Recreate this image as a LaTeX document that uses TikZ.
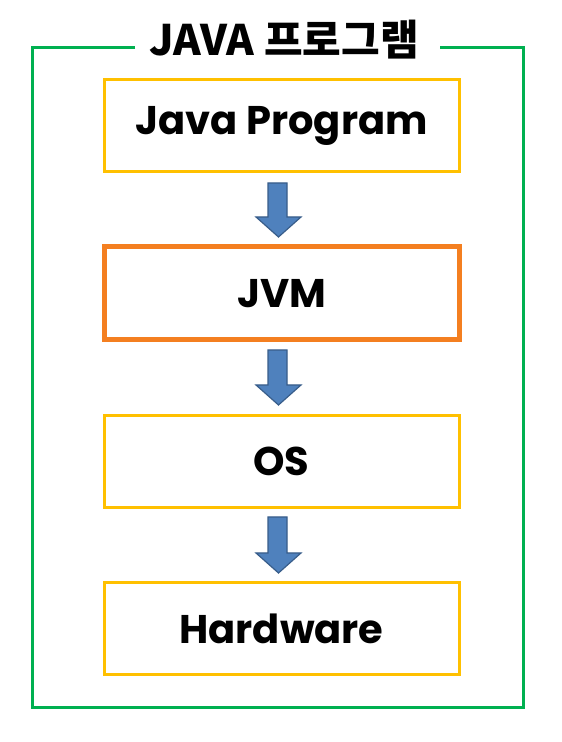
\documentclass[tikz,border=0pt]{standalone}
\usepackage{fontspec}
\setmainfont{Poppins}
\newfontfamily\krfont{Noto Sans CJK KR}
\definecolor{frameGreen}{HTML}{00B050}
\definecolor{boxYellow}{HTML}{FFC000}
\definecolor{boxOrange}{HTML}{F47F20}
\definecolor{arrFill}{HTML}{4F81BD}
\definecolor{arrEdge}{HTML}{385D8A}
\tikzset{
  layer/.style={draw=boxYellow, line width=3pt, minimum width=355pt, minimum height=92pt, inner sep=0pt, font=\bfseries\fontsize{40}{40}\selectfont, anchor=center},
  hotlayer/.style={layer, draw=boxOrange, line width=5pt, minimum height=93pt},
  blockarrow/.style={fill=arrFill, draw=arrEdge, line width=1.2pt, line join=miter},
  frameline/.style={draw=frameGreen, line width=3pt}
}
\newcommand{\downblock}[2]{%
  \draw[blockarrow] (268,742-#1) -- (287,742-#1) -- (287,742-#2) -- (301,742-#2) -- (278.5,742-#2-20) -- (256,742-#2) -- (268,742-#2) -- cycle;}
\begin{document}
\begin{tikzpicture}[x=1pt,y=1pt]
\useasboundingbox (0,0) rectangle (562,742);
\fill[white] (0,0) rectangle (562,742);
% frame
\draw[frameline] (135,694) -- (32,694) -- (32,34) -- (523,34) -- (523,694) -- (440,694);
\node[font=\krfont\bfseries\fontsize{42}{42}\selectfont, inner sep=0pt] (title) at (284,702) {JAVA 프로그램};
% layers
\node[layer] (jp) at (281.5,742-126) {Java Program};
\node[hotlayer] (jvm) at (282,742-293.5) {JVM};
\node[layer] (os) at (281.5,742-461.5) {OS};
\node[layer] (hw) at (281.5,742-629) {Hardware};
% arrows
\downblock{183}{217}
\downblock{350}{385}
\downblock{517}{553}
\end{tikzpicture}
\end{document}
